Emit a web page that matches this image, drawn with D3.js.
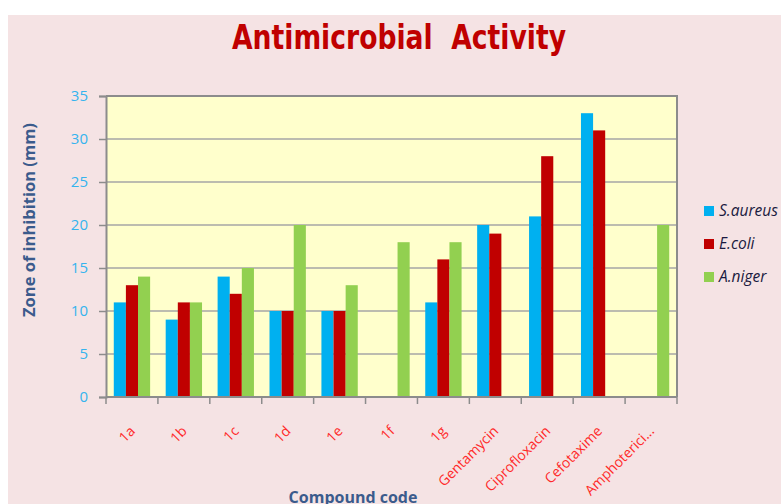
<!DOCTYPE html>
<html>
<head>
<meta charset="utf-8">
<script src="https://cdn.jsdelivr.net/npm/d3@7"></script>
<style>
  body { margin: 0; background: #fff; }
  svg { display: block; }
</style>
</head>
<body>
<svg id="chart" width="781" height="504"></svg>
<script>
// data
const compounds = ["1a", "1b", "1c", "1d", "1e", "1f", "1g", "Gentamycin", "Ciprofloxacin", "Cefotaxime", "Amphoterici..."];
const organisms = ["S.aureus", "E.coli", "A.niger"];
const sAureus = [11, 9, 14, 10, 10, 0, 11, 20, 21, 33, 0];
const eColi   = [13, 11, 12, 10, 10, 0, 16, 19, 28, 31, 0];
const aNiger  = [14, 11, 15, 20, 13, 18, 18, 0, 0, 0, 20];
const yTicks = [0, 5, 10, 15, 20, 25, 30, 35];
const colors = ["#00b0f0", "#c00000", "#92d050"];

const series = [sAureus, eColi, aNiger];

const svg = d3.select("#chart");
const W = 781, H = 504;
const plot = { left: 106, top: 96, right: 677, bottom: 397 };

// pink chart area
svg.append("rect")
    .attr("x", 8).attr("y", 15)
    .attr("width", W - 8).attr("height", H - 15)
    .attr("fill", "#f5e3e4");

// title
svg.append("text")
    .attr("x", 399).attr("y", 49)
    .attr("text-anchor", "middle")
    .attr("font-family", "DejaVu Sans")
    .attr("font-weight", "bold")
    .attr("font-size", 33)
    .attr("fill", "#c00000")
    .attr("textLength", 334)
    .attr("lengthAdjust", "spacingAndGlyphs")
    .attr("xml:space", "preserve")
    .text("Antimicrobial  Activity");

const x = d3.scaleBand()
    .domain(compounds)
    .range([plot.left, plot.right])
    .paddingInner(0.3)
    .paddingOuter(0.15);

const xs = d3.scaleBand()
    .domain(organisms)
    .range([0, x.bandwidth()]);

const y = d3.scaleLinear()
    .domain([0, 35])
    .range([plot.bottom, plot.top]);

// plot background
svg.append("rect")
    .attr("x", plot.left).attr("y", plot.top)
    .attr("width", plot.right - plot.left)
    .attr("height", plot.bottom - plot.top)
    .attr("fill", "#ffffcc");

// gridlines
svg.append("g")
    .selectAll("line")
    .data(yTicks.filter(t => t > 0 && t < 35))
    .enter().append("line")
    .attr("x1", plot.left).attr("x2", plot.right)
    .attr("y1", d => y(d)).attr("y2", d => y(d))
    .attr("stroke", "#a6a6a6")
    .attr("stroke-width", 1.6);

// bars
const groups = svg.append("g")
    .selectAll("g")
    .data(compounds)
    .enter().append("g")
    .attr("transform", d => `translate(${x(d)},0)`);

groups.selectAll("rect")
    .data((d, i) => organisms.map((o, j) => ({ o, v: series[j][i], c: colors[j] })))
    .enter().append("rect")
    .filter(d => d.v > 0)
    .attr("x", d => xs(d.o))
    .attr("y", d => y(d.v))
    .attr("width", xs.bandwidth())
    .attr("height", d => y(0) - y(d.v))
    .attr("fill", d => d.c);

// frame (top and right)
svg.append("path")
    .attr("d", `M${plot.left},${plot.top}H${plot.right}V${plot.bottom}`)
    .attr("fill", "none")
    .attr("stroke", "#8c8c8c")
    .attr("stroke-width", 2);

// y axis
const yAxis = svg.append("g")
    .attr("transform", `translate(${plot.left},0)`)
    .call(d3.axisLeft(y).tickValues(yTicks).tickSize(7).tickPadding(11));
yAxis.select(".domain").attr("stroke", "#8c8c8c").attr("stroke-width", 2);
yAxis.selectAll(".tick line").attr("stroke", "#8c8c8c").attr("stroke-width", 1.5);
yAxis.selectAll("text")
    .attr("font-family", "Open Sans")
    .attr("font-size", 15)
    .attr("fill", "#35b4ee");

// x axis with ticks at category boundaries
const boundaries = d3.range(compounds.length + 1).map(i => plot.left + i * (plot.right - plot.left) / compounds.length);
svg.append("line")
    .attr("x1", plot.left).attr("x2", plot.right)
    .attr("y1", plot.bottom).attr("y2", plot.bottom)
    .attr("stroke", "#8c8c8c").attr("stroke-width", 2);
svg.append("g")
    .selectAll("line")
    .data(boundaries)
    .enter().append("line")
    .attr("x1", d => d).attr("x2", d => d)
    .attr("y1", plot.bottom).attr("y2", plot.bottom + 7)
    .attr("stroke", "#8c8c8c").attr("stroke-width", 1.5);

svg.append("g")
    .selectAll("text")
    .data(compounds)
    .enter().append("text")
    .attr("transform", d => `translate(${x(d) + x.bandwidth() / 2 + 4},${plot.bottom + 35}) rotate(-45)`)
    .attr("text-anchor", "end")
    .attr("font-family", "Open Sans")
    .attr("font-size", 14)
    .attr("fill", "#ff2a2a")
    .text(d => d);

// axis titles
svg.append("text")
    .attr("transform", "translate(35,220) rotate(-90)")
    .attr("text-anchor", "middle")
    .attr("font-family", "Open Sans")
    .attr("font-weight", "bold")
    .attr("font-size", 16.5)
    .attr("fill", "#3b5b8c")
    .text("Zone of inhibition (mm)");

svg.append("text")
    .attr("x", 353).attr("y", 503)
    .attr("text-anchor", "middle")
    .attr("font-family", "Open Sans")
    .attr("font-weight", "bold")
    .attr("font-size", 16)
    .attr("fill", "#3b5b8c")
    .text("Compound code");

// legend
const legend = svg.append("g")
    .selectAll("g")
    .data(organisms)
    .enter().append("g")
    .attr("transform", (d, i) => `translate(704,${206 + i * 33})`);
legend.append("rect")
    .attr("width", 10).attr("height", 10)
    .attr("fill", (d, i) => colors[i]);
legend.append("text")
    .attr("x", 15).attr("y", 10)
    .attr("font-family", "Open Sans")
    .attr("font-style", "italic")
    .attr("font-size", 15.5)
    .attr("fill", "#1a1a40")
    .text(d => d);
</script>
</body>
</html>
